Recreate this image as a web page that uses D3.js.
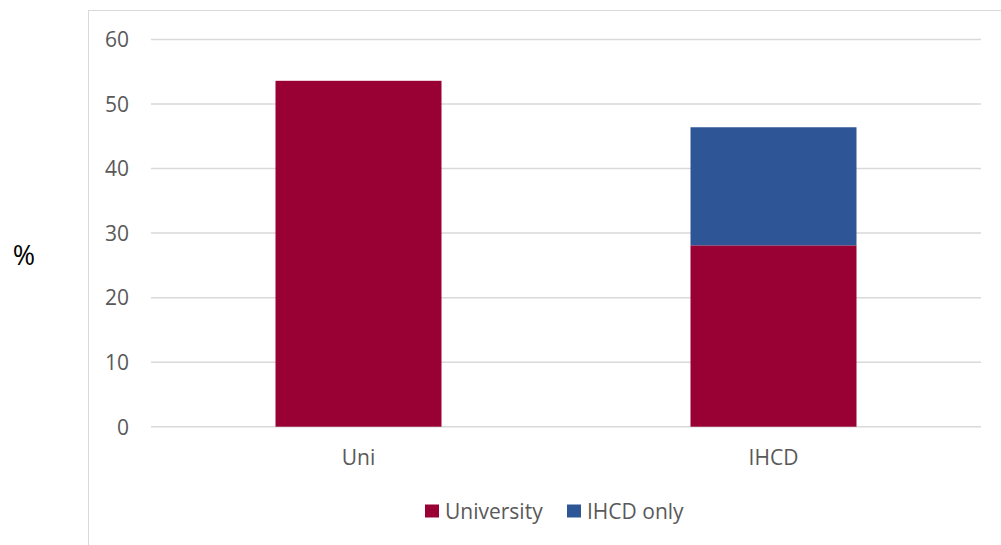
<!DOCTYPE html>
<html><head><meta charset="utf-8">
<script src="https://cdn.jsdelivr.net/npm/d3@7"></script>
<style>body{margin:0;background:#fff}svg text{font-family:"Open Sans",sans-serif;fill:#595959}</style>
</head><body><svg id="c" width="1001" height="545"></svg>
<script>
const categories = ["Uni", "IHCD"];
const university = [53.6, 28.1];
const ihcdOnly = [0, 18.3];
const yTicks = [0, 10, 20, 30, 40, 50, 60];
const seriesNames = ["University", "IHCD only"];
const colors = ["#990033", "#2E5696"];
const FONT = "'Open Sans', sans-serif";
const FS = 21;

const svg = d3.select("#c");
svg.append("rect").attr("x", 88.5).attr("y", 10.5).attr("width", 1000).attr("height", 600)
  .attr("fill", "none").attr("stroke", "#d9d9d9").attr("stroke-width", 1);

const x = d3.scaleBand().domain(categories).range([151, 981]).paddingInner(0.6).paddingOuter(0.3);
const y = d3.scaleLinear().domain([0, 60]).range([426.7, 39.5]);

const g = svg.append("g");
g.selectAll("line.grid").data(yTicks).join("line").attr("class", "grid")
  .attr("x1", 151).attr("x2", 981).attr("y1", d => y(d)).attr("y2", d => y(d))
  .attr("stroke", "#d9d9d9").attr("stroke-width", 1.5);

const rows = categories.map((c, i) => ({cat: c, University: university[i], "IHCD only": ihcdOnly[i]}));
const stacked = d3.stack().keys(seriesNames)(rows);
stacked.forEach((s, si) => {
  g.selectAll(null).data(s).join("rect")
    .attr("x", d => x(d.data.cat)).attr("width", x.bandwidth())
    .attr("y", d => y(d[1])).attr("height", d => y(d[0]) - y(d[1]))
    .attr("fill", colors[si]);
});

const yAxis = d3.axisLeft(y).tickValues(yTicks).tickSize(0).tickPadding(0);
const ya = svg.append("g").attr("transform", "translate(129,0)").call(yAxis);
ya.select(".domain").remove();
ya.selectAll("text").attr("font-size", FS).attr("fill", "#595959").attr("dy", "0.35em")
  .style("font-family", FONT);

const xAxis = d3.axisBottom(x).tickSize(0).tickPadding(0);
const xa = svg.append("g").attr("transform", "translate(0,450)").call(xAxis);
xa.select(".domain").remove();
xa.selectAll("text").attr("font-size", FS).attr("fill", "#595959").attr("dy", "0.71em")
  .style("font-family", FONT);

svg.append("text").attr("x", 24).attr("y", 265).attr("text-anchor", "middle")
  .attr("font-size", 27).attr("fill", "#000").style("fill", "#000").style("font-family", FONT).text("%");

const legX = [425, 567];
seriesNames.forEach((n, i) => {
  svg.append("rect").attr("x", legX[i]).attr("y", 504.5).attr("width", 14).attr("height", 13).attr("fill", colors[i]);
  svg.append("text").attr("x", legX[i] + 20).attr("y", 519).attr("font-size", FS).style("font-family", FONT).text(n);
});
</script></body></html>
